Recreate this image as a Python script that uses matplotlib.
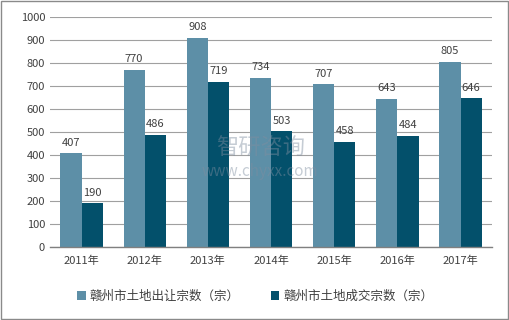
import numpy as np
import matplotlib
matplotlib.use("Agg")
import matplotlib.pyplot as plt

plt.rcParams["font.family"] = ["Noto Sans CJK SC", "DejaVu Sans"]

years = ["2011年", "2012年", "2013年", "2014年", "2015年", "2016年", "2017年"]
supply = [407, 770, 908, 734, 707, 643, 805]
deals = [190, 486, 719, 503, 458, 484, 646]
series_names = ["赣州市土地出让宗数（宗）", "赣州市土地成交宗数（宗）"]

C_LIGHT = "#5d8fa7"
C_DARK = "#03506b"

fig = plt.figure(figsize=(5.1, 3.2), dpi=100)
ax = fig.add_axes([0.098, 0.228, 0.867, 0.719])

x = np.arange(len(years))
w = 0.335
b1 = ax.bar(x - w / 2, supply, w, color=C_LIGHT, label=series_names[0], zorder=2)
b2 = ax.bar(x + w / 2, deals, w, color=C_DARK, label=series_names[1], zorder=2)

for bars in (b1, b2):
    for r in bars:
        ax.text(r.get_x() + r.get_width() / 2, r.get_height() + 25, f"{int(r.get_height())}",
                ha="center", va="bottom", fontsize=8, color="#404040", zorder=3)

ax.set_ylim(0, 1000)
ax.set_yticks(range(0, 1001, 100))
ax.set_xlim(-0.5, len(years) - 0.5)
ax.set_xticks(x)
ax.set_xticklabels(years)
ax.tick_params(axis="both", length=0, labelsize=8, colors="#404040")
ax.tick_params(axis="x", pad=6)
ax.yaxis.grid(True, color="#a0a0a0", linewidth=0.8, zorder=0)
ax.set_axisbelow(True)
for s in ("top", "right", "left"):
    ax.spines[s].set_visible(False)
ax.spines["bottom"].set_color("#808080")
ax.spines["bottom"].set_linewidth(1.0)

# watermark
fig.text(0.51, 0.535, "智研咨询", ha="center", va="center", fontsize=16,
         color="#7f8ea0", alpha=0.45, zorder=5)
fig.text(0.51, 0.465, "www.chyxx.com", ha="center", va="center", fontsize=11,
         color="#7f8ea0", alpha=0.45, zorder=5)

fig.legend(handles=[b1, b2], loc="center", bbox_to_anchor=(0.5, 0.075), ncol=2,
           frameon=False, fontsize=9, handlelength=0.7, handleheight=0.7,
           columnspacing=2.5, handletextpad=0.3, labelcolor="#404040")

fig.patches.append(plt.Rectangle((0.002, 0.003), 0.995, 0.993, transform=fig.transFigure,
                                 fill=False, edgecolor="#8a8a8a", linewidth=1.0))

fig.savefig("out.png", dpi=100)
